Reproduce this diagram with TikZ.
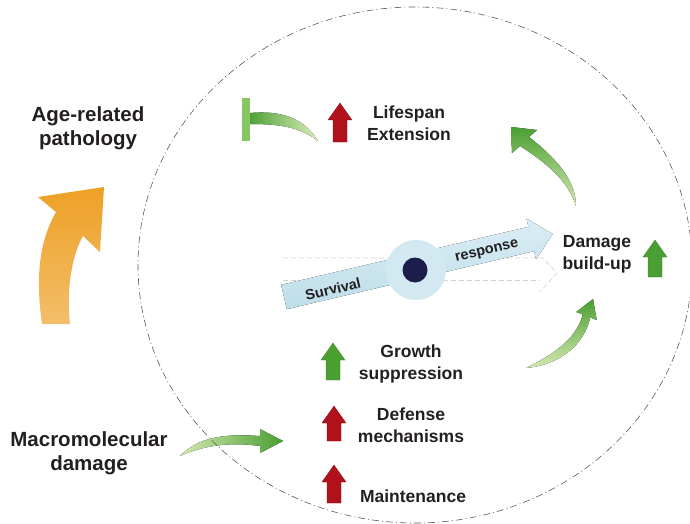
\documentclass[tikz,border=0pt]{standalone}
\usepackage{fontspec}
\setmainfont{Liberation Sans}
\usetikzlibrary{calc}
\definecolor{txt}{HTML}{231F20}
\definecolor{orA}{HTML}{EEA025}
\definecolor{orB}{HTML}{F3BE6A}
\definecolor{gD}{HTML}{4A9E32}
\definecolor{gL}{HTML}{B5DB7A}
\definecolor{gM}{HTML}{86C763}
\definecolor{rD}{HTML}{B0111B}
\definecolor{rL}{HTML}{E83036}
\definecolor{bandC}{HTML}{BDDEEA}
\definecolor{circC}{HTML}{D3E9F1}
\definecolor{dotC}{HTML}{1C1D4A}
\tikzset{
  outerlbl/.style={font=\fontsize{20.5}{24}\selectfont\bfseries, text=txt, align=center},
  innerlbl/.style={font=\fontsize{17.5}{22}\selectfont\bfseries, text=txt, align=center},
  bandlbl/.style={font=\fontsize{14.5}{16}\selectfont\bfseries, text=txt, rotate=13.2},
  redup/.style={left color=rD, middle color=rL, right color=rD, draw=rD!80!black, line width=0.3pt},
  greenup/.style={left color=gD, middle color=gM, right color=gD, draw=gD!85!black, line width=0.3pt},
  border/.style={draw=black!65, line width=0.6pt, dash pattern=on 7pt off 3pt on 1pt off 3pt},
  shadowline/.style={draw=black!18, line width=0.6pt, dash pattern=on 5pt off 3pt},
}
\newcommand{\blockup}[4]{%
  \path[#4] (#1-12,#2+17) -- (#1,#2) -- (#1+12,#2+17) -- (#1+7,#2+17) -- (#1+7,#3) -- (#1-7,#3) -- (#1-7,#2+17) -- cycle;}
\begin{document}
\begin{tikzpicture}[x=1pt,y=-1pt]
\useasboundingbox (0,0) rectangle (690,524);

% orange curved arrow
\shade[top color=orA, bottom color=orB]
  (42,324) .. controls (35,275) and (40,240) .. (56,212) -- (38,197) -- (104,187)
  -- (100,252) -- (83,236) .. controls (72,255) and (66,290) .. (70,324) -- cycle;

% inhibition
\fill[gM] (242,98) rectangle (250,141);
\fill[left color=gD!90!gM, right color=gL!50!white]
  (250,113) .. controls (285,110) and (305,120) .. (318,141)
  .. controls (300,127) and (280,124) .. (250,124) -- cycle;

% upper right swoosh
\fill[top color=gD, bottom color=gL!60!white]
  (529,137) -- (537,130) -- (511,127) -- (512,153) -- (520,146)
  .. controls (545,162) and (568,180) .. (576,206)
  .. controls (576,178) and (552,155) .. (529,137) -- cycle;

% lower right swoosh
\fill[top color=gD, bottom color=gL!60!white]
  (582.8,314.5) -- (576.3,312) -- (593,299) -- (596.7,320) -- (590.2,317.5)
  .. controls (584,345) and (560,365) .. (526,368)
  .. controls (552,355) and (576,340) .. (582.8,314.5) -- cycle;

% macromolecular swoosh
\fill[left color=gL!60!white, right color=gD]
  (180,456) .. controls (200,435) and (230,434) .. (260,436) -- (260,429)
  -- (283,441) -- (260,453) -- (260,446)
  .. controls (230,442) and (205,445) .. (180,456) -- cycle;

% dashed shadow of the survival arrow
\draw[shadowline] (283,258) -- (543,258) -- (557,273) -- (540,292);
\draw[shadowline] (283,280) -- (540,280);

% survival response arrow
\begin{scope}[shift={(284,297)}, rotate=13.2]
  \fill[top color=bandC!55!white, bottom color=bandC]
    (0,-12.5) -- (254,-12.5) -- (254,-21) -- (276,0) -- (254,21) -- (254,12.5) -- (0,12.5) -- cycle;
\end{scope}
\fill[circC] (416,270) circle [radius=30pt];
\fill[dotC] (415,270) circle [radius=12.5pt];
\node[bandlbl] (surv) at (333,289) {Survival};
\node[bandlbl] (resp) at (487,252) {response};

% up arrows
\blockup{340}{103}{142}{redup}
\blockup{655}{240}{277}{greenup}
\blockup{333}{343}{380}{greenup}
\blockup{334}{406}{441}{redup}
\blockup{334}{465}{503}{redup}

% labels
\node[outerlbl] (agep) at (88,128) {Age-related\\pathology};
\node[outerlbl] (macro) at (89,453) {Macromolecular\\damage};
\node[innerlbl] (life) at (409,123) {Lifespan\\Extension};
\node[innerlbl] (dmg) at (597,254) {Damage\\build-up};
\node[innerlbl] (grow) at (411,364) {Growth\\suppression};
\node[innerlbl] (def) at (411,425) {Defense\\mechanisms};
\node[innerlbl] (maint) at (413,496) {Maintenance};

% dash-dot border
\draw[border] (415,265) ellipse [x radius=277pt, y radius=258pt];
\end{tikzpicture}
\end{document}
